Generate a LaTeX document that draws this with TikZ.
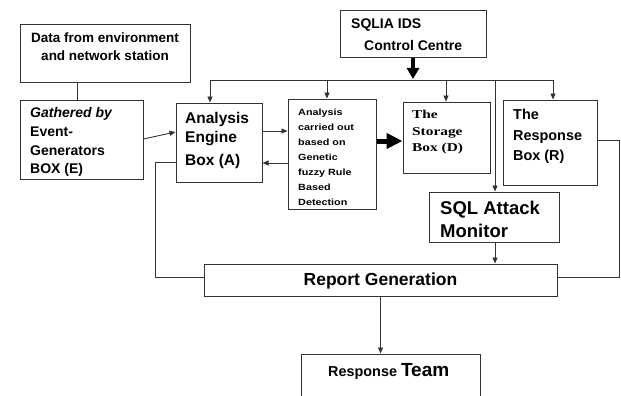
\documentclass[tikz,border=0pt]{standalone}
\usepackage{fontspec}
\usepackage{graphicx}
\setmainfont{Liberation Sans}
\newfontfamily\myserif{Liberation Serif}
\usetikzlibrary{arrows.meta,calc}
\newcommand\mysz[1]{\fontsize{#1}{#1}\selectfont\bfseries}
\begin{document}
\begin{tikzpicture}[x=1pt,y=-1pt,
  box/.style={draw=black!80, line width=1pt, inner sep=0pt, rectangle},
  ln/.style={draw=black!80, line width=0.9pt},
  arr/.style={ln, -{Triangle[length=6pt,width=5pt]}},
  txt/.style={inner sep=0pt, anchor=base west}]
\useasboundingbox (0,0) rectangle (621,396);
\fill[white] (0,0) rectangle (621,396);

% boxes
\node[box, minimum width=170pt, minimum height=57pt] (data) at (105,53.5) {};
\node[box, minimum width=123pt, minimum height=79pt] (gath) at (81.5,139.5) {};
\node[box, minimum width=86pt, minimum height=79pt] (eng) at (219,142.5) {};
\node[box, minimum width=88pt, minimum height=110pt] (carr) at (332,154) {};
\node[box, minimum width=87pt, minimum height=71pt] (stor) at (446.5,137.5) {};
\node[box, minimum width=94pt, minimum height=85pt] (resp) at (550,142.5) {};
\node[box, minimum width=146pt, minimum height=47pt] (ctrl) at (413,34.5) {};
\node[box, minimum width=130pt, minimum height=50pt] (sql) at (494,217) {};
\node[box, minimum width=353pt, minimum height=32pt] (rep) at (380.5,280) {};
\node[box, minimum width=179pt, minimum height=46pt] (team) at (390.5,377) {};

% texts
\node[txt, anchor=base, font=\mysz{13.5}] (t1) at (105,43) {Data from environment};
\node[txt, anchor=base, font=\mysz{13.5}] (t2) at (105,61) {and network station};

\node[txt, font=\mysz{14}\itshape] (g1) at (30,117) {Gathered by};
\node[txt, font=\mysz{14}] (g2) at (30,136) {Event-};
\node[txt, font=\mysz{14}] (g3) at (30,155) {Generators};
\node[txt, font=\mysz{14}] (g4) at (30,173) {BOX (E)};

\node[txt, font=\mysz{15.5}] (e1) at (185,123) {Analysis};
\node[txt, font=\mysz{15.5}] (e2) at (185,142) {Engine};
\node[txt, font=\mysz{15.5}] (e3) at (185,165) {Box (A)};

\node[txt, font=\mysz{9}] (c1) at (298,115.5) {\scalebox{1.2}[1]{Analysis}};
\node[txt, font=\mysz{9}] (c2) at (298,130.4) {\scalebox{1.2}[1]{carried out}};
\node[txt, font=\mysz{9}] (c3) at (298,145.3) {\scalebox{1.2}[1]{based on}};
\node[txt, font=\mysz{9}] (c4) at (298,160.2) {\scalebox{1.2}[1]{Genetic}};
\node[txt, font=\mysz{9}] (c5) at (298,175.1) {\scalebox{1.2}[1]{fuzzy Rule}};
\node[txt, font=\mysz{9}] (c6) at (298,190) {\scalebox{1.2}[1]{Based}};
\node[txt, font=\mysz{9}] (c7) at (298,205) {\scalebox{1.2}[1]{Detection}};

\node[txt, font=\myserif\mysz{12}] (s1) at (412,118) {\scalebox{1.28}[1]{The}};
\node[txt, font=\myserif\mysz{12}] (s2) at (412,135) {\scalebox{1.28}[1]{Storage}};
\node[txt, font=\myserif\mysz{12}] (s3) at (412,151.5) {\scalebox{1.28}[1]{Box (D)}};

\node[txt, font=\mysz{14.4}] (r1) at (513,119.5) {The};
\node[txt, font=\mysz{14.4}] (r2) at (513,140) {Response};
\node[txt, font=\mysz{14.4}] (r3) at (513,160) {Box (R)};

\node[txt, font=\mysz{14}] (k1) at (351,28.3) {SQLIA IDS};
\node[txt, font=\mysz{14}] (k2) at (364,50.7) {Control Centre};

\node[txt, font=\mysz{18.5}] (m1) at (440,214.3) {SQL Attack};
\node[txt, font=\mysz{18.5}] (m2) at (440,237.3) {Monitor};

\node[txt, anchor=base, font=\mysz{17.5}] (p1) at (380.5,285.3) {Report Generation};

\node[txt, font=\mysz{14.4}] (q1) at (328,376) {Response {\mysz{19}Team}};

% connectors
\coordinate (dl) at (77,0);
\draw[ln] (data.south -| dl) -- (gath.north -| dl);
\draw[arr] (gath.east |- 0,139) -- (eng.west |- 0,132);
\draw[arr] (eng.east |- 0,131) -- (carr.west |- 0,131);
\draw[arr] (carr.west |- 0,163) -- (eng.east |- 0,163);
\draw[line width=5pt, -{Triangle[length=16pt,width=15pt]}] (carr.east |- 0,141) -- (stor.west |- 0,141);

\coordinate (busL) at (210,80);
\coordinate (busR) at (553,80);
\coordinate (bC) at (327,80);
\coordinate (bD) at (446,80);
\coordinate (bM) at (495,80);
\draw[line width=3.5pt, -{Triangle[length=11pt,width=12pt]}] (ctrl.south) -- (ctrl.south |- 0,79);
\draw[ln] (busL) -- (busR);
\draw[arr] (busL) -- (busL |- eng.north);
\draw[arr] (bC) -- (bC |- carr.north);
\draw[arr] (bD) -- (bD |- stor.north);
\draw[arr] (busR) -- (busR |- resp.north);
\draw[arr] (bM) -- (bM |- sql.north);
\draw[arr] (sql.south -| bM) -- (rep.north -| bM);
\draw[arr] (rep.south) -- (rep.south |- team.north);

\draw[ln] (eng.west |- 0,162) -- (155,162) -- (155,277) -- (rep.west |- 0,277);
\draw[ln] (resp.east |- 0,140) -- (619,140) -- (619,277) -- (rep.east |- 0,277);
\end{tikzpicture}
\end{document}
